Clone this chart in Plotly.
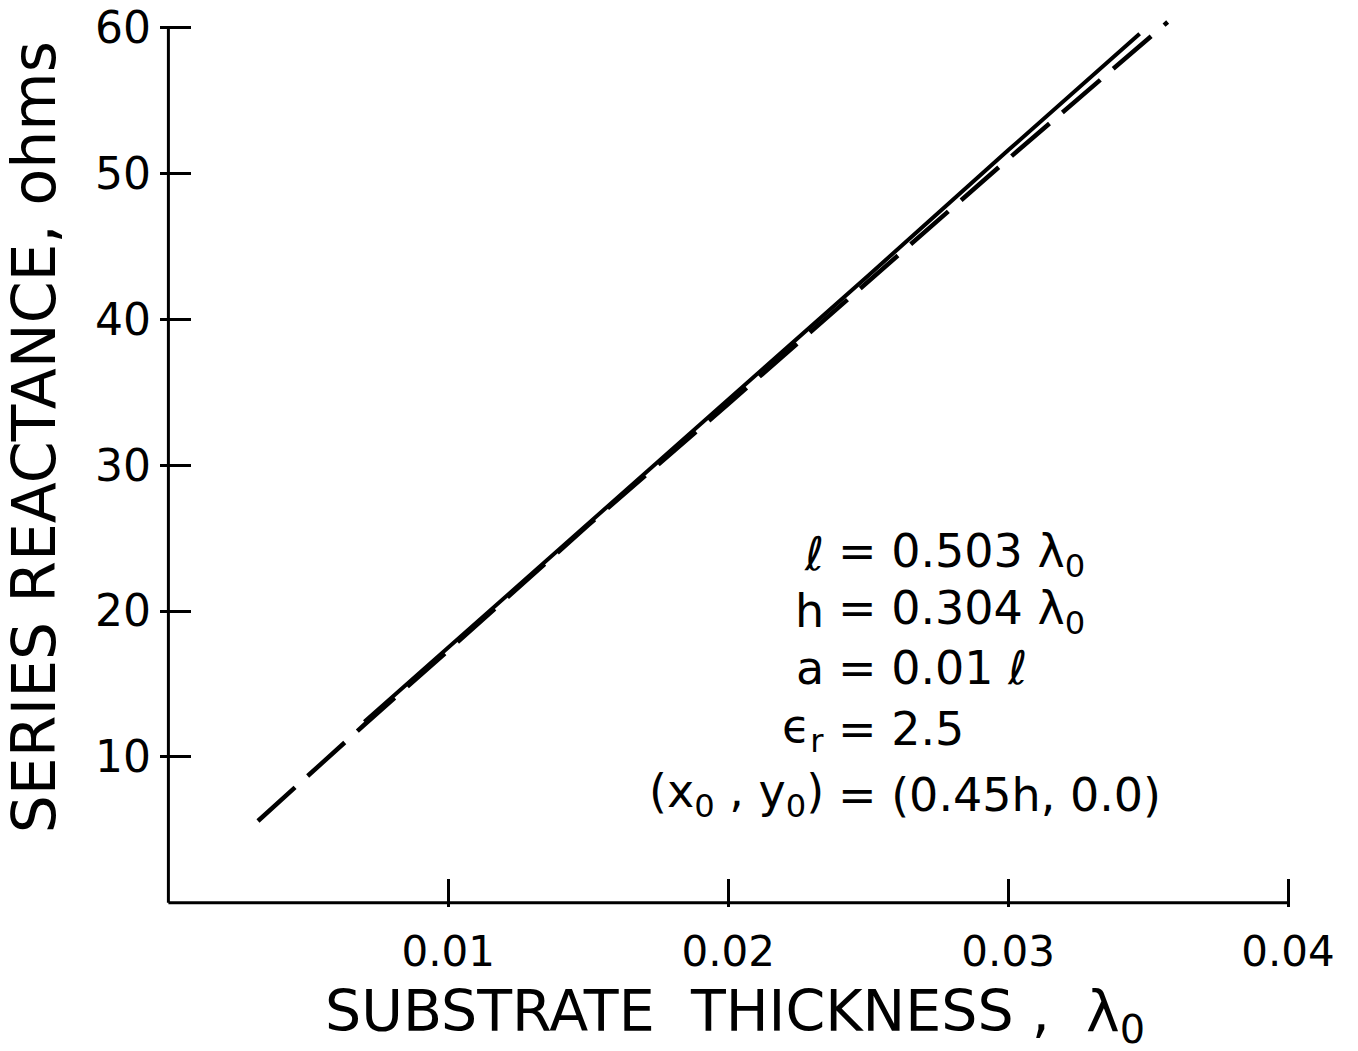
import plotly.graph_objects as go

# ---- data ----
solid_x = [0.0070, 0.0100, 0.0150, 0.0200, 0.0250, 0.0300, 0.0347]
solid_y = [12.4, 17.5, 26.0, 34.5, 43.0, 51.6, 59.6]

dash_x = [0.0032, 0.0070, 0.0100, 0.0150, 0.0200, 0.0250, 0.0300, 0.0357]
dash_y = [5.6, 12.2, 17.3, 25.9, 34.2, 42.6, 51.0, 60.4]

x_ticks = [0.01, 0.02, 0.03, 0.04]
x_tick_text = ["0.01", "0.02", "0.03", "0.04"]
y_ticks = [10, 20, 30, 40, 50, 60]
y_tick_text = ["10", "20", "30", "40", "50", "60"]

param_left = ["ℓ", "h", "a", "ϵ<sub>r</sub>", "(x<sub>0</sub> , y<sub>0</sub>)"]
param_right = ["= 0.503 λ<sub>0</sub>", "= 0.304 λ<sub>0</sub>", "= 0.01 ℓ", "= 2.5", "= (0.45h, 0.0)"]
param_y = [23.9, 20.0, 16.1, 11.9, 7.4]

FONT = "DejaVu Sans, Liberation Sans, sans-serif"

fig = go.Figure()
fig.add_trace(go.Scatter(x=solid_x, y=solid_y, mode="lines",
                         line=dict(color="black", width=4), showlegend=False))
fig.add_trace(go.Scatter(x=dash_x, y=dash_y, mode="lines",
                         line=dict(color="black", width=4.5, dash="50px,17px"),
                         showlegend=False))

# axis lines (L-shaped frame)
fig.add_shape(type="line", xref="x", yref="y", x0=0, y0=0, x1=0, y1=60,
              line=dict(color="black", width=3))
fig.add_shape(type="line", xref="x", yref="y", x0=0, y0=0, x1=0.04, y1=0,
              line=dict(color="black", width=3))

# parameter block
for lt, rt, yy in zip(param_left, param_right, param_y):
    fig.add_annotation(x=0.02350, y=yy, xref="x", yref="y", text=lt,
                       showarrow=False, xanchor="right", yanchor="middle",
                       font=dict(family=FONT, size=46, color="black"))
    fig.add_annotation(x=0.02385, y=yy, xref="x", yref="y", text=rt,
                       showarrow=False, xanchor="left", yanchor="middle",
                       font=dict(family=FONT, size=46, color="black"))

# axis titles
fig.add_annotation(x=0.02025, y=0, xref="x", yref="y", yshift=-112,
                   text="SUBSTRATE  THICKNESS ,  λ<sub>0</sub>", showarrow=False,
                   xanchor="center", yanchor="middle",
                   font=dict(family=FONT, size=57, color="black"))
fig.add_annotation(x=0, y=31.95, xref="x", yref="y", xshift=-135,
                   text="SERIES REACTANCE, ohms", textangle=-90, showarrow=False,
                   xanchor="center", yanchor="middle",
                   font=dict(family=FONT, size=60, color="black"))

fig.update_xaxes(range=[-0.0003, 0.0405], showgrid=False, zeroline=False,
                 showline=False, ticks="inside", ticklen=28, tickwidth=3,
                 tickcolor="black", tickvals=x_ticks, ticktext=x_tick_text,
                 ticklabelstandoff=16, automargin=False,
                 tickfont=dict(family=FONT, size=42, color="black"))
fig.update_yaxes(range=[-0.3, 61.5], showgrid=False, zeroline=False,
                 showline=False, ticks="inside", ticklen=31, tickwidth=3,
                 tickcolor="black", tickvals=y_ticks, ticktext=y_tick_text,
                 ticklabelstandoff=8, automargin=False,
                 tickfont=dict(family=FONT, size=44, color="black"))

fig.update_layout(width=1358, height=1051,
                  margin=dict(l=160, r=56, t=6, b=144),
                  plot_bgcolor="white", paper_bgcolor="white")

fig.write_html("out.html", config={"displayModeBar": False},
               post_script="document.body.style.margin='0';document.body.style.overflow='hidden';")
